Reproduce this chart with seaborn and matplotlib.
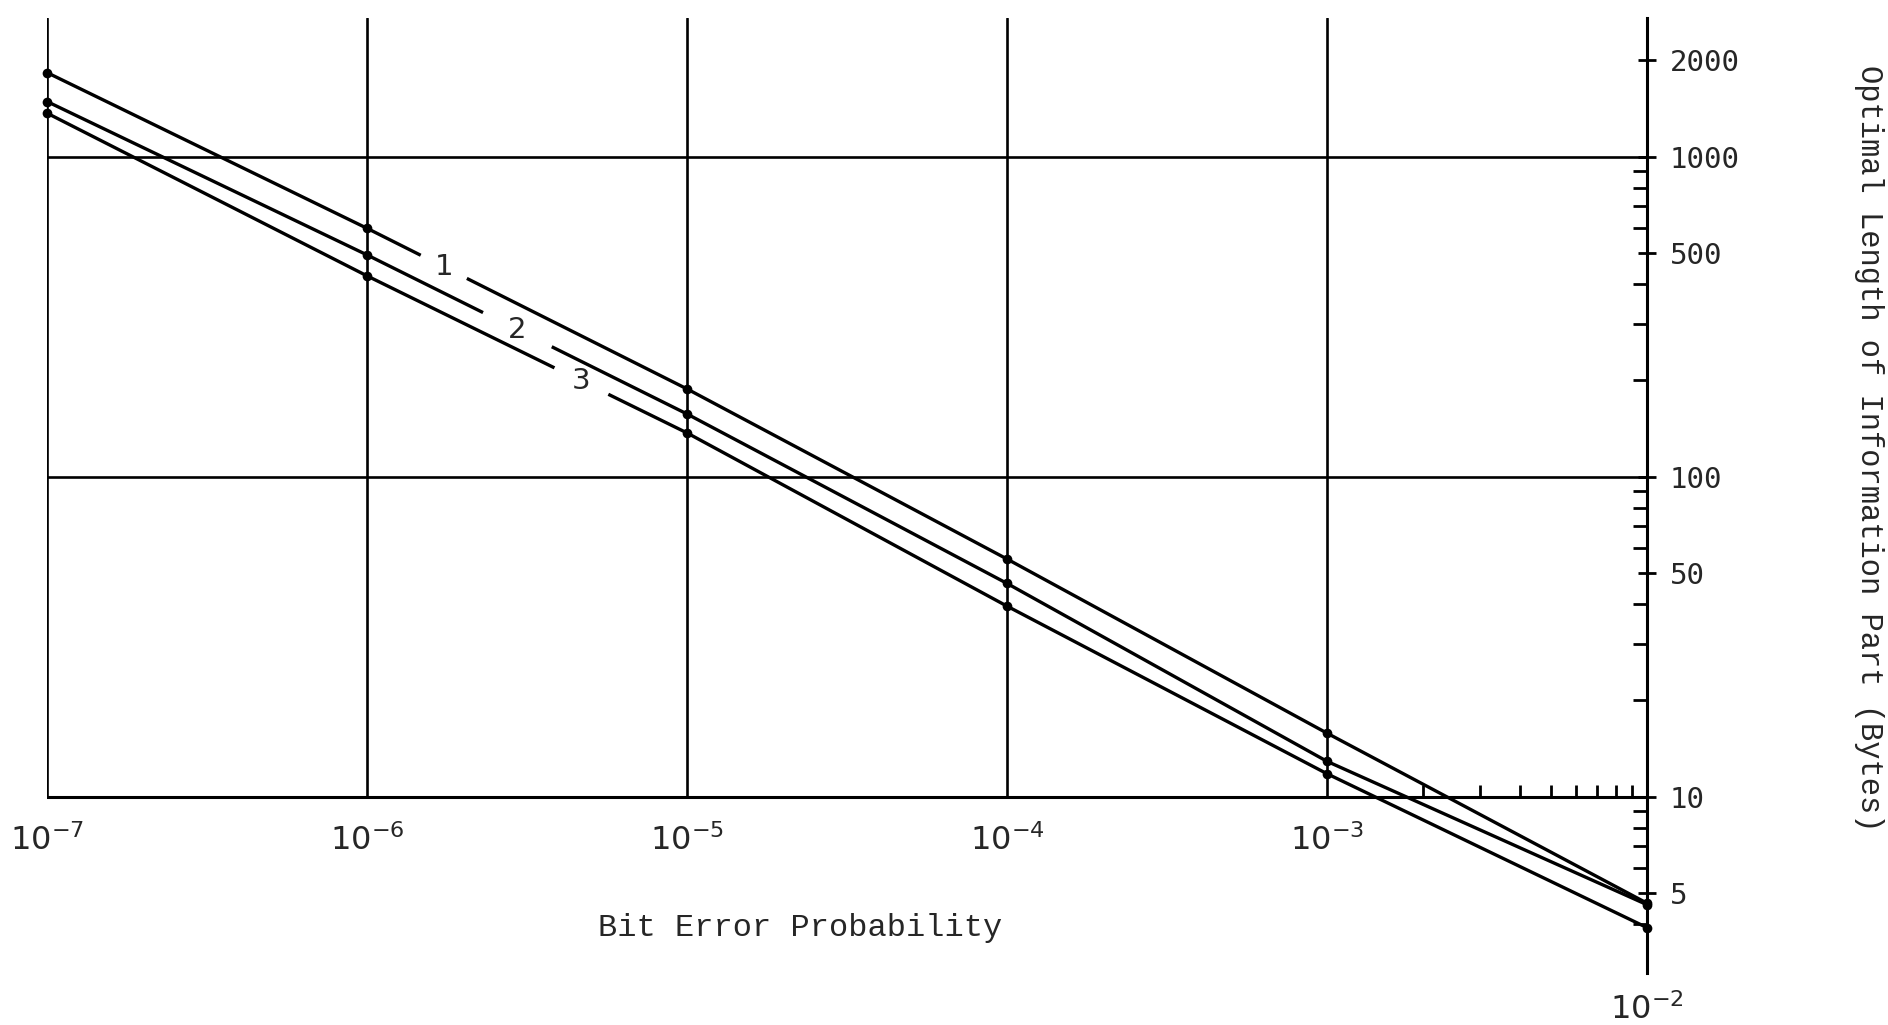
import numpy as np
import pandas as pd
import seaborn as sns
import matplotlib.pyplot as plt
from matplotlib.ticker import FixedLocator, NullLocator, NullFormatter

# values
ber = [1e-7, 1e-6, 1e-5, 1e-4, 1e-3, 1e-2]
curve_1 = [1830, 597, 188, 55.3, 15.8, 4.65]
curve_2 = [1486, 493, 157, 46.4, 12.9, 4.6]
curve_3 = [1367, 424, 137, 39.4, 11.8, 3.9]
curve_names = ["1", "2", "3"]

# where the curve numbers sit (log10 of the bit error probability)
label_at = [-5.76, -5.53, -5.33]
gap_chars = [6, 9, 7]

xtick_labels = ["$10^{-7}$", "$10^{-6}$", "$10^{-5}$", "$10^{-4}$", "$10^{-3}$", "$10^{-2}$"]
x_minor = [2e-3, 3e-3, 4e-3, 5e-3, 6e-3, 7e-3, 8e-3, 9e-3]
ytick_vals = [5, 10, 50, 100, 500, 1000, 2000]
ytick_minor = [4, 6, 7, 8, 9, 20, 30, 40, 60, 70, 80, 90,
               200, 300, 400, 600, 700, 800, 900]
grid_y = [10, 100, 1000]
y_range = (2.82, 2710)

sns.set_style("white")
plt.rcParams['mathtext.fontset'] = 'dejavusans'

df = pd.DataFrame({
    "ber": ber * 3,
    "length": curve_1 + curve_2 + curve_3,
    "curve": [n for n in curve_names for _ in ber],
})

fig = plt.figure(figsize=(18.88, 10.25), dpi=100)
ax = fig.add_axes([47 / 1888, 1 - 972.7 / 1025, 1600 / 1888, (972.7 - 18) / 1025])

ax.set_xscale('log')
ax.set_yscale('log')
ax.set_xlim(ber[0], ber[-1])
ax.set_ylim(*y_range)

sns.lineplot(data=df, x="ber", y="length", hue="curve", palette=["black"] * 3,
             marker="o", markersize=7, markeredgewidth=0, linewidth=2.4,
             legend=False, ax=ax, clip_on=False, zorder=3)

# grid: horizontal decades across, vertical decades only above y=10
frac10 = (np.log10(10) - np.log10(y_range[0])) / (np.log10(y_range[1]) - np.log10(y_range[0]))
for v in grid_y:
    ax.axhline(v, color="black", lw=2.2 if v == 10 else 1.9, zorder=1)
for x in ber[:-1]:
    ax.axvline(x, ymin=frac10, ymax=1, color="black", lw=1.9, zorder=1)

for side in ["top", "left", "bottom"]:
    ax.spines[side].set_visible(False)
ax.spines["right"].set_linewidth(2.2)
ax.spines["right"].set_color("black")

# bottom axis only carries the 10^-2 label under the right spine
ax.set_xticks([ber[-1]], labels=[xtick_labels[-1]])
ax.xaxis.set_minor_locator(NullLocator())
ax.tick_params(axis="x", which="both", length=0, pad=15, labelsize=23)

# the decade labels sit below the y=10 line
sec = ax.secondary_xaxis(frac10)
sec.set_xticks(ber[:-1], labels=xtick_labels[:-1])
sec.xaxis.set_minor_locator(FixedLocator(x_minor))
sec.xaxis.set_minor_formatter(NullFormatter())
sec.tick_params(which="major", length=0, pad=20, labelsize=23)
sec.tick_params(which="minor", direction="in", length=9, width=2, color="black")
for s in sec.spines.values():
    s.set_visible(False)

# right hand y axis
ax.yaxis.tick_right()
ax.set_yticks(ytick_vals, labels=[str(v) for v in ytick_vals])
ax.yaxis.set_minor_locator(FixedLocator(ytick_minor))
ax.yaxis.set_minor_formatter(NullFormatter())
ax.tick_params(axis="y", which="major", direction="inout", length=13, width=2,
               pad=10, labelsize=21, color="black")
ax.tick_params(axis="y", which="minor", direction="in", length=10, width=2, color="black")
for t in ax.get_yticklabels():
    t.set_family("DejaVu Sans Mono")

ax.set_ylabel("Optimal Length of Information Part (Bytes)", rotation=270,
              fontsize=22, family="Liberation Mono")
ax.yaxis.set_label_position("right")
ax.yaxis.set_label_coords(1.139, 0.5496)
ax.yaxis.label.set_va("center")
ax.yaxis.label.set_ha("center")

ax.set_xlabel("Bit Error Probability", fontsize=23, family="Liberation Mono")
ax.xaxis.set_label_coords(0.471, 0.047)
ax.xaxis.label.set_va("center")

# curve numbers placed in a break of each line
log_x = np.log10(ber)
for name, vals, lx, n in zip(curve_names, [curve_1, curve_2, curve_3], label_at, gap_chars):
    log_y = np.log10(vals)
    ly = np.interp(lx, log_x, log_y)
    i = np.searchsorted(log_x, lx) - 1
    p0 = ax.transData.transform((ber[i], vals[i]))
    p1 = ax.transData.transform((ber[i + 1], vals[i + 1]))
    angle = np.degrees(np.arctan2(p1[1] - p0[1], p1[0] - p0[0]))
    ax.text(10 ** lx, 10 ** ly, "0" * n, rotation=angle, rotation_mode="anchor",
            ha="center", va="center", color="white", fontsize=10,
            family="DejaVu Sans Mono", zorder=4,
            bbox=dict(boxstyle="square,pad=0.05", fc="white", ec="none"))
    ax.text(10 ** lx, 10 ** ly, name, ha="center", va="center", fontsize=21,
            family="DejaVu Sans", zorder=5)

fig.savefig("out.png", dpi=100)
